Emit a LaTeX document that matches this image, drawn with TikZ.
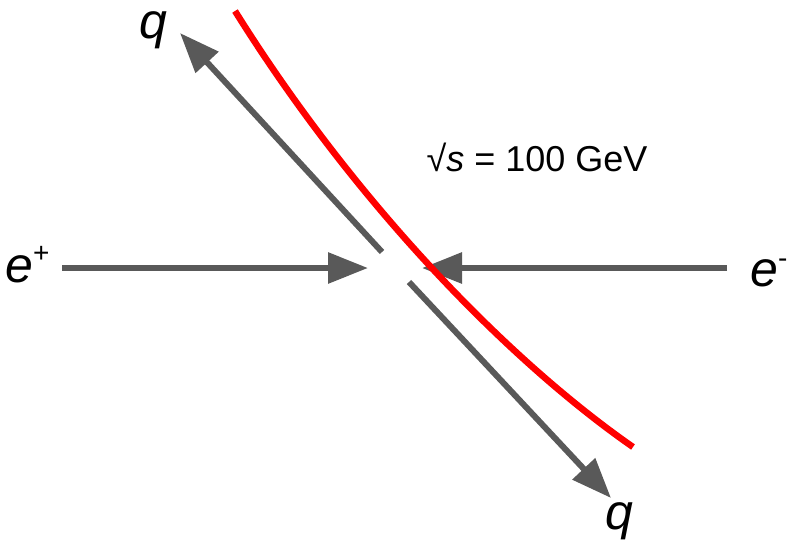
\documentclass[tikz,border=0pt]{standalone}
\usepackage{fontspec}
\setmainfont{Liberation Sans}
\usetikzlibrary{arrows.meta}
\definecolor{arrgray}{HTML}{595959}
\newcommand{\supsign}[2]{\raisebox{#1}{\fontsize{28}{30}\selectfont\upshape #2}}
\tikzset{
  part/.style={draw=arrgray, line width=6pt, -{Triangle[length=40pt,width=30pt]}},
  lbl/.style={font=\fontsize{50}{54}\selectfont\itshape, inner sep=0pt, anchor=base west, text height=26pt, text depth=11pt},
  redline/.style={draw=red, line width=6.5pt}
}
\begin{document}
\begin{tikzpicture}[x=1pt,y=-1pt]
\useasboundingbox (0,0) rectangle (794,542);
% labels
\node[lbl] (qtop) at (139,38) {q};
\node[lbl] (qbot) at (605,529) {q};
\node[lbl] (ep) at (5,282) {e\supsign{20pt}{+}};
\node[lbl] (em) at (750,286) {e\supsign{19pt}{-}};
\node[font=\fontsize{36}{40}\selectfont, inner sep=0pt] (ecm) at (537,157) {√\textit{s} = 100 GeV};
% coordinates
\coordinate (ls) at (62,268);
\coordinate (lt) at (368,268);
\coordinate (rs) at (727,268);
\coordinate (rt) at (422,268);
\coordinate (us) at (382,252);
\coordinate (ut) at (180,33);
\coordinate (ds) at (409,282);
\coordinate (dt) at (611,498);
\coordinate (r0) at (235,11);
\coordinate (r1) at (633,447);
% arrows
\draw[part] (ls) -- (lt);
\draw[part] (rs) -- (rt);
\draw[part] (us) -- (ut);
\draw[part] (ds) -- (dt);
% red track
\draw[redline] (r0) .. controls (355,203) and (508,360) .. (r1);
\end{tikzpicture}
\end{document}
